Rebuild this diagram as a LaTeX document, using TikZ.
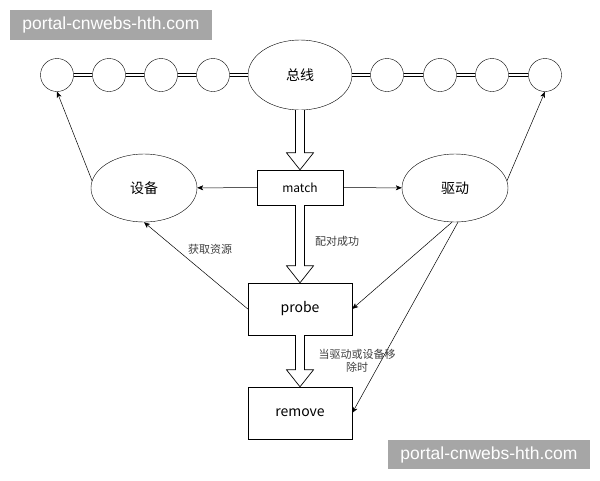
\documentclass[tikz,border=0pt]{standalone}
\usepackage{fontspec}
\setmainfont{Noto Sans CJK SC}
\newfontfamily\wmfont{Liberation Sans}
\usetikzlibrary{shapes.geometric,arrows.meta,calc}
\definecolor{wmgray}{HTML}{A6A6A6}
% hollow block arrow, straight down from #1 to #2
\newcommand{\fatarrow}[2]{%
  \draw[hollow] let \p1=(#1), \p2=(#2) in
    (\x1-4.5pt,\y1) -- (\x1-4.5pt,\y2+17pt) -- (\x1-13.5pt,\y2+17pt) -- (\x1,\y2)
    -- (\x1+13.5pt,\y2+17pt) -- (\x1+4.5pt,\y2+17pt) -- (\x1+4.5pt,\y1);}
\begin{document}
\begin{tikzpicture}[x=1pt,y=-1pt,
    every node/.style={font=\fontsize{14}{16}\selectfont},
    ring/.style={draw, circle, minimum size=33, inner sep=0},
    oval/.style={draw, ellipse, minimum width=106, minimum height=68, inner sep=0},
    stepbox/.style={draw, rectangle, minimum width=104, minimum height=52, inner sep=0},
    link/.style={double, double distance=2.5pt, line width=.5pt},
    conn/.style={-{Stealth[length=6pt,width=5pt,inset=1.5pt]}, line width=.5pt},
    hollow/.style={draw, fill=white, line width=.7pt},
    note/.style={font=\fontsize{11}{13}\selectfont, text=black!75},
    watermark/.style={fill=wmgray, text=white, minimum width=202, minimum height=29.5,
      inner sep=0, font=\wmfont\fontsize{17.5}{19}\selectfont}]
    \useasboundingbox (0,0) rectangle (600,480);
    \node[watermark] (wm-1) at (111,25) {portal-cnwebs-hth.com};
    % bus line
    \node[oval, minimum width=104, minimum height=70] (bus) at (300,75) {总线};
    \foreach \n/\x in {1/57, 2/109, 3/161, 4/213, 5/387, 6/440, 7/492, 8/545}
      \node[ring] (c-\n) at (\x,75) {};
    \foreach \a/\b in {1/2, 2/3, 3/4, 5/6, 6/7, 7/8}
      \draw[link] (c-\a) -- (c-\b);
    \draw[link] (c-4) -- (bus);
    \draw[link] (bus) -- (c-5);
    % middle row
    \node[stepbox, minimum width=86, minimum height=35, font=\fontsize{12}{14}\selectfont] (match) at (300,187.5) {match};
    \node[oval] (dev) at (144,188) {设备};
    \node[oval] (drv) at (455,188) {驱动};
    \node[stepbox] (probe) at (300,309) {probe};
    \node[stepbox] (remove) at (300,413) {remove};
    \fatarrow{bus.south}{match.north}
    \fatarrow{match.south}{probe.north}
    \fatarrow{probe.south}{remove.north}
    \draw[conn] (match) -- (dev);
    \draw[conn] (match) -- (drv);
    \draw[conn] (dev.172) -- (c-1.south);
    \draw[conn] (drv.8) -- (c-8.south);
    \draw[conn] (drv.265) -- (probe.east);
    \draw[conn] (drv.275) -- (remove.east);
    \draw[conn] (probe.west) -- (dev.south);
    \node[note] (pair) at (337,241) {配对成功};
    \node[note] (res) at (210,249) {获取资源};
    \node[note, align=center] (rm) at (357,361) {当驱动或设备移\\除时};
    \node[watermark] (wm-2) at (489,454.5) {portal-cnwebs-hth.com};
  \end{tikzpicture}
\end{document}
